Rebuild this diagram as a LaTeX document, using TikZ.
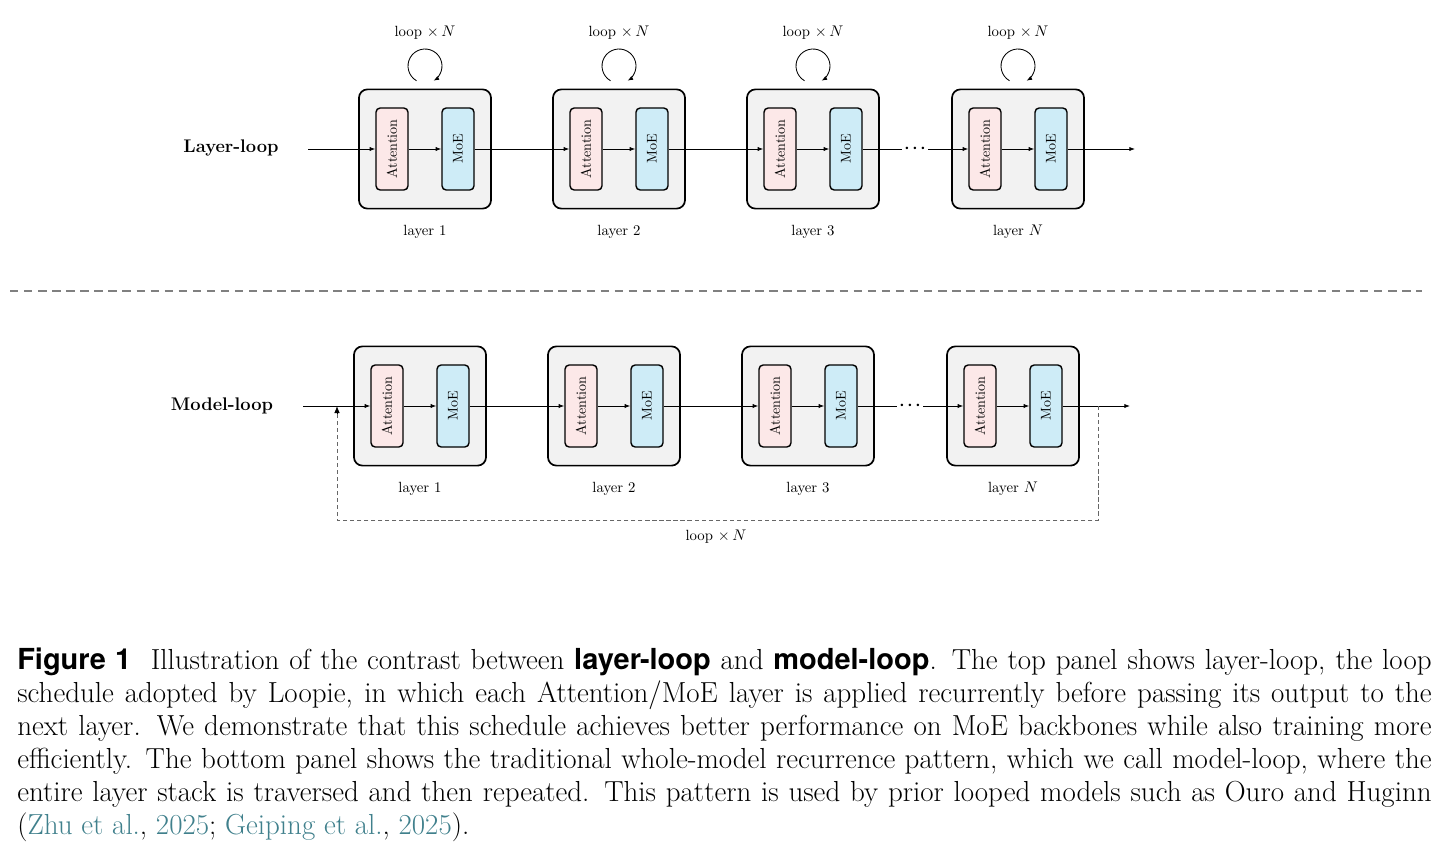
\documentclass[tikz,border=0pt]{standalone}
\usepackage{fontspec}
\newfontfamily\capsans{TeX Gyre Heros}
\usetikzlibrary{calc,arrows.meta,positioning}
\definecolor{attnpink}{RGB}{252,232,232}
\definecolor{moeblue}{RGB}{206,236,247}
\definecolor{cyteal}{RGB}{64,128,140}
\tikzset{
  lbox/.style={draw, line width=1.2pt, rounded corners=6pt, fill=gray!10, minimum width=3.3cm, minimum height=2.98cm},
  abox/.style={draw, line width=1pt, rounded corners=3pt, fill=attnpink, minimum width=2.05cm, minimum height=0.8cm, rotate=90, font=\fontsize{10}{12}\selectfont},
  mbox/.style={draw, line width=1pt, rounded corners=3pt, fill=moeblue, minimum width=2.05cm, minimum height=0.8cm, rotate=90, font=\fontsize{10}{12}\selectfont},
  lbl/.style={font=\fontsize{10.5}{12}\selectfont},
  dots/.style={font=\fontsize{18}{18}\selectfont, inner sep=1pt},
  flow/.style={-{Latex[length=4pt,width=3pt]}, line width=0.6pt},
}
\begin{document}
\begin{tikzpicture}[x=0.025cm,y=-0.025cm]
  \useasboundingbox (0,0) rectangle (1447,857);

  % --- Layer-loop ---
  \node[font=\bfseries\fontsize{13}{15}\selectfont] (tl) at (231,148) {Layer-loop};
  \coordinate (tin) at (308,149);
  \coordinate (tout) at (1135,149);
  \foreach \n/\x/\t in {1/425/1,2/619/2,3/813/3,4/1018/$N$} {
    \node[lbox] (L\n) at (\x,149) {};
    \node[abox] (A\n) at (\x-33,149) {Attention};
    \node[mbox] (M\n) at (\x+33,149) {MoE};
    \draw[flow] (A\n) -- (M\n);
    \node[lbl] (ly\n) at (\x,232) {layer \t};
    \coordinate (lc\n) at (\x,66);
    \draw[-{Latex[length=4pt,width=3pt]}, line width=0.6pt] ($(lc\n)+(120:17)$) arc[start angle=120, end angle=420, radius=17];
    \node[lbl] (lp\n) at (\x,33) {loop $\times\,N$};
  }
  \node[dots] (tdots) at (915,149) {$\cdot\!\cdot\!\cdot$};
  \draw[flow] (tin) -- (A1);
  \draw[flow] (M1) -- (A2);
  \draw[flow] (M2) -- (A3);
  \draw[line width=0.6pt] (M3) -- (tdots);
  \draw[flow] (tdots) -- (A4);
  \draw[flow] (M4) -- (tout);

  % separator
  \draw[gray, line width=0.8pt, dash pattern=on 6pt off 4pt] (10,291) -- (1422,291);

  % --- Model-loop ---
  \node[font=\bfseries\fontsize{13}{15}\selectfont] (bl) at (222,406) {Model-loop};
  \coordinate (bin) at (303,406);
  \coordinate (bout) at (1130,406);
  \foreach \n/\x/\t in {1/420/1,2/614/2,3/808/3,4/1013/$N$} {
    \node[lbox] (B\n) at (\x,406) {};
    \node[abox] (BA\n) at (\x-33,406) {Attention};
    \node[mbox] (BM\n) at (\x+33,406) {MoE};
    \draw[flow] (BA\n) -- (BM\n);
    \node[lbl] (bly\n) at (\x,489) {layer \t};
  }
  \node[dots] (bdots) at (910,406) {$\cdot\!\cdot\!\cdot$};
  \draw[flow] (bin) -- (BA1);
  \draw[flow] (BM1) -- (BA2);
  \draw[flow] (BM2) -- (BA3);
  \draw[line width=0.6pt] (BM3) -- (bdots);
  \draw[flow] (bdots) -- (BA4);
  \draw[flow] (BM4) -- (bout);

  % feedback
  \coordinate (fb0) at (1098,406);
  \coordinate (fb1) at (337,406);
  \coordinate (fb2) at (337,414);
  \draw[gray!80!black, line width=0.6pt, dash pattern=on 3pt off 2pt] (fb0) -- (1098,520) -- (337,520) -- (fb2);
  \draw[-{Latex[length=5pt,width=4pt]}, line width=0.6pt] (fb2) -- (fb1);
  \node[lbl] (blp) at (716,537) {loop $\times\,N$};

  % caption
  \node[anchor=north west, text width=35.35cm, align=justify, inner sep=0pt,
        font=\fontsize{20.6}{23.4}\selectfont] (cap) at (17,648)
    {{\capsans\bfseries Figure 1}\ \ Illustration of the contrast between {\capsans\bfseries layer-loop} and {\capsans\bfseries model-loop}. The top panel shows layer-loop, the loop schedule adopted by Loopie, in which each Attention/MoE layer is applied recurrently before passing its output to the next layer. We demonstrate that this schedule achieves better performance on MoE backbones while also training more efficiently. The bottom panel shows the traditional whole-model recurrence pattern, which we call model-loop, where the entire layer stack is traversed and then repeated. This pattern is used by prior looped models such as Ouro and Huginn ({\color{cyteal}Zhu et al.}, {\color{cyteal}2025}; {\color{cyteal}Geiping et al.}, {\color{cyteal}2025}).};
\end{tikzpicture}
\end{document}
